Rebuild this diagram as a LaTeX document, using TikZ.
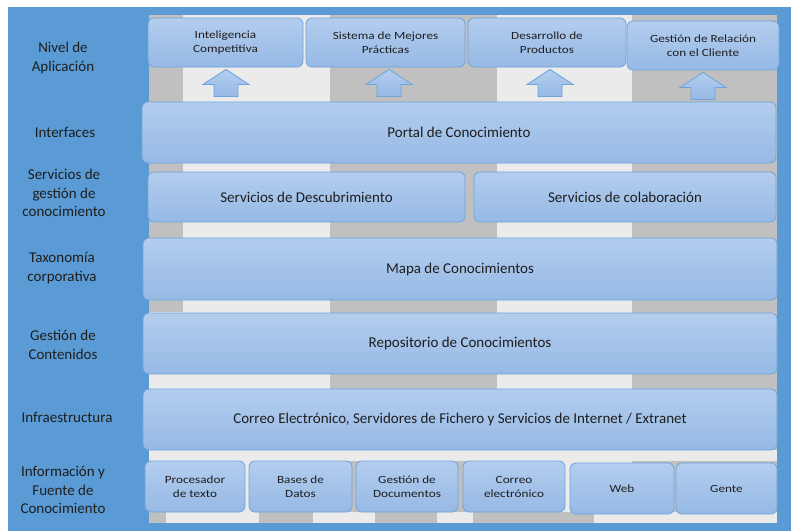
\documentclass[tikz,border=0pt]{standalone}
\usepackage{fontspec}
\setmainfont{Carlito}
\newfontfamily\widefont[FakeStretch=1.2]{Carlito}
\usepackage{tikz}
\usetikzlibrary{backgrounds}
\usetikzlibrary{calc}
\definecolor{bgblue}{HTML}{5B9BD5}
\definecolor{boxtop}{HTML}{B3CDEE}
\definecolor{boxbot}{HTML}{96B9E5}
\definecolor{boxline}{HTML}{6FA3DC}
\definecolor{stpgray}{HTML}{C0C0C0}
\definecolor{stplight}{HTML}{EBEBEB}
\definecolor{txtgray}{HTML}{1E1E1E}
\newcommand{\stpxa}{149}
\newcommand{\stpxb}{183}
\newcommand{\stpxc}{330}
\newcommand{\stpxd}{497}
\newcommand{\stpxe}{632}
\newcommand{\stpxf}{777}
\newcommand{\stpya}{15}
\newcommand{\stpyb}{312}
\newcommand{\stpyc}{450}
\newcommand{\stpyd}{461}
\newcommand{\stpye}{512}
\newcommand{\stpyf}{523}
\newcommand{\uparr}[2]{%
  \path[blockarrow] ($(#1.south)+(#2,2)$) -- ++(23,15) -- ++(-11,0)
    -- ++(0,12) -- ++(-24,0) -- ++(0,-12) -- ++(-11,0) -- cycle;}
\tikzset{
  tierbox/.style={draw=boxline, line width=0.8pt, rounded corners=6pt,
    top color=boxtop, bottom color=boxbot, text=txtgray, align=center,
    inner sep=0pt, font=\fontsize{15}{18.5}\selectfont},
  appbox/.style={tierbox, font=\widefont\fontsize{11}{14}\selectfont},
  tierlabel/.style={align=center, text=txtgray,
    font=\fontsize{15}{18.5}\selectfont},
  blockarrow/.style={draw=boxline, line width=0.8pt, top color=boxtop,
    bottom color=boxbot, line join=miter},
  joint/.style={draw=boxline, line width=6pt}
}

\begin{document}
\begin{tikzpicture}[x=1pt,y=-1pt]
    \useasboundingbox (0,0) rectangle (791,531);

    % left column
    \node[tierlabel] (lapp) at (63,58) {Nivel de\\Aplicación};
    \node[tierlabel] (lint) at (65,132) {Interfaces};
    \node[tierlabel] (lsrv) at (64,193) {Servicios de\\gestión de\\conocimiento};
    \node[tierlabel] (ltax) at (62,268) {Taxonomía\\corporativa};
    \node[tierlabel] (lcnt) at (63,345) {Gestión de\\Contenidos};
    \node[tierlabel] (linf) at (67,417) {Infraestructura};
    \node[tierlabel] (lsrc) at (63,490) {Información y\\Fuente de\\Conocimiento};

    % applications
    \node[appbox, minimum width=155pt, minimum height=49pt] (icomp)
      at (225.5,42.5) {Inteligencia\\Competitiva};
    \node[appbox, minimum width=159pt, minimum height=49pt] (smp)
      at (385.5,42.5) {Sistema de Mejores\\Prácticas};
    \node[appbox, minimum width=158pt, minimum height=49pt] (dprod)
      at (547,42.5) {Desarrollo de\\Productos};
    \node[appbox, minimum width=152pt, minimum height=49pt] (grc)
      at (703,45.5) {Gestión de Relación\\con el Cliente};

    \uparr{icomp}{0.5}
    \uparr{smp}{3.5}
    \uparr{dprod}{3}
    \uparr{grc}{0}

    % tiers
    \node[tierbox, minimum width=634pt, minimum height=61pt] (portal)
      at (459,132.5) {Portal de Conocimiento};
    \node[tierbox, minimum width=317pt, minimum height=50pt] (sdesc)
      at (306.5,197) {Servicios de Descubrimiento};
    \node[tierbox, minimum width=302pt, minimum height=50pt] (scolab)
      at (625,197) {Servicios de colaboración};
    \node[tierbox, minimum width=634pt, minimum height=62pt] (mapa)
      at (460,269) {Mapa de Conocimientos};
    \node[tierbox, minimum width=634pt, minimum height=61pt] (repo)
      at (460,343.5) {Repositorio de Conocimientos};
    \node[tierbox, minimum width=634pt, minimum height=61pt] (infra)
      at (460,419.5) {Correo Electrónico, Servidores de Fichero y Servicios de Internet / Extranet};

    % sources
    \node[appbox, minimum width=100pt, minimum height=51pt] (proc)
      at (195,486.5) {Procesador\\de texto};
    \node[appbox, minimum width=103pt, minimum height=51pt] (bdat)
      at (300.5,486.5) {Bases de\\Datos};
    \node[appbox, minimum width=102pt, minimum height=51pt] (gdoc)
      at (407,486.5) {Gestión de\\Documentos};
    \node[appbox, minimum width=102pt, minimum height=51pt] (mail)
      at (514,486.5) {Correo\\electrónico};
    \node[appbox, minimum width=104pt, minimum height=51pt] (web)
      at (622,488.5) {Web};
    \node[appbox, minimum width=101pt, minimum height=51pt] (gente)
      at (726.5,488.5) {Gente};

    \begin{scope}[on background layer]
      \draw[joint] (proc.east) -- (bdat.west);
      \draw[joint] (bdat.east) -- (gdoc.west);
      \draw[joint] (gdoc.east) -- (mail.west);
      \draw[joint] (mail.east) -- (web.west);
      \draw[joint] (web.east) -- (gente.west);
    \end{scope}

    \begin{scope}[on background layer]
      \fill[bgblue] (8,7) rectangle (791,531);
      \fill[stplight] (\stpxa,\stpya) rectangle (\stpxf,\stpyf);

      \fill[stpgray] (\stpxa,\stpya) rectangle (\stpxb,\stpyb);
      \fill[stpgray] (\stpxc,\stpya) rectangle (\stpxd,\stpyc);
      \fill[stpgray] (\stpxe,\stpya) rectangle (\stpxf,\stpyc);
      \fill[stpgray] (\stpxc,\stpyd) rectangle (\stpxd,\stpye);
      \fill[stpgray] (\stpxe,\stpyd) rectangle (\stpxf,\stpye);

      \fill[stpgray] (149,\stpye) rectangle (166,\stpyf);
      \fill[stpgray] (259,\stpye) rectangle (313,\stpyf);
      \fill[stpgray] (375,\stpye) rectangle (437,\stpyf);
      \fill[stpgray] (473,\stpye) rectangle (594,\stpyf);
    \end{scope}
  \end{tikzpicture}
\end{document}
